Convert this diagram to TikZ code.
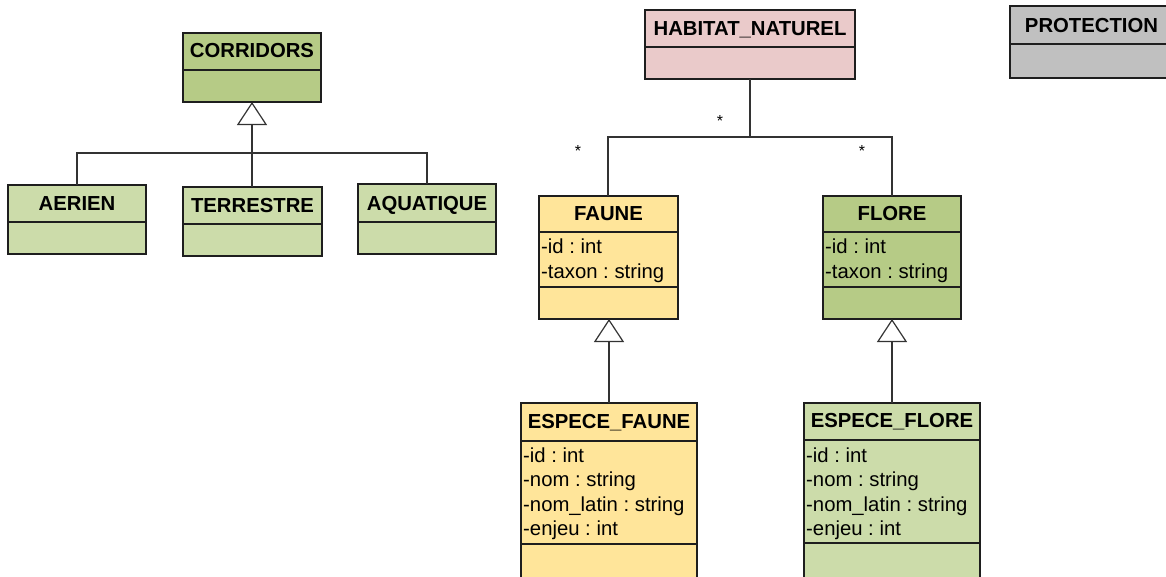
\documentclass[tikz,border=0pt]{standalone}
\usepackage{fontspec}
\setmainfont{Liberation Sans}
\frenchspacing
\usetikzlibrary{arrows.meta}
\definecolor{gDark}{HTML}{B6CB86}
\definecolor{gLight}{HTML}{CCDCAA}
\definecolor{pinkc}{HTML}{EACACA}
\definecolor{yellc}{HTML}{FFE59A}
\definecolor{grayc}{HTML}{C0C0C0}
\definecolor{edgec}{HTML}{1E1E1E}
\definecolor{linec}{HTML}{333333}
\tikzset{
  cls/.style={draw=edgec, line width=1.6pt, inner sep=0pt, outer sep=0pt, anchor=north west},
  divl/.style={draw=edgec, line width=1.6pt},
  ttl/.style={inner sep=0pt, anchor=base, font=\bfseries\fontsize{20.3}{24}\selectfont},
  attr/.style={inner sep=0pt, anchor=base west, font=\frenchspacing\fontsize{20.3}{24}\selectfont},
  conn/.style={draw=linec, line width=1.2pt},
  gen/.style={conn, -{Triangle[open, fill=white, length=23pt, width=30pt, line width=1.2pt]}},
  mult/.style={inner sep=0pt, anchor=base, font=\fontsize{16}{18}\selectfont},
}
\begin{document}
\begin{tikzpicture}[x=1pt, y=-1pt]
\useasboundingbox (0,0) rectangle (1166,576);
\clip (0,0) rectangle (1166,576);
\fill[white] (0,0) rectangle (1166,576);

% CORRIDORS
\node[cls, fill=gDark, minimum width=138pt, minimum height=69pt] (corr) at (183,33) {};
\draw[divl] ([yshift=-37pt]corr.north west) -- ([yshift=-37pt]corr.north east);
\node[ttl] (corrT) at ([yshift=-24pt]corr.north) {CORRIDORS};

% AERIEN
\node[cls, fill=gLight, minimum width=138pt, minimum height=69pt] (aer) at (8,185) {};
\draw[divl] ([yshift=-37pt]aer.north west) -- ([yshift=-37pt]aer.north east);
\node[ttl] (aerT) at ([yshift=-25pt]aer.north) {AERIEN};

% TERRESTRE
\node[cls, fill=gLight, minimum width=139pt, minimum height=69pt] (ter) at (183,187) {};
\draw[divl] ([yshift=-37pt]ter.north west) -- ([yshift=-37pt]ter.north east);
\node[ttl] (terT) at ([yshift=-25pt]ter.north) {TERRESTRE};

% AQUATIQUE
\node[cls, fill=gLight, minimum width=138pt, minimum height=70pt] (aqu) at (358,184) {};
\draw[divl] ([yshift=-38pt]aqu.north west) -- ([yshift=-38pt]aqu.north east);
\node[ttl] (aquT) at ([yshift=-26pt]aqu.north) {AQUATIQUE};

% HABITAT_NATUREL
\node[cls, fill=pinkc, minimum width=210pt, minimum height=69pt] (hab) at (645,10) {};
\draw[divl] ([yshift=-37pt]hab.north west) -- ([yshift=-37pt]hab.north east);
\node[ttl] (habT) at ([yshift=-25pt]hab.north) {HABITAT\_NATUREL};

% PROTECTION
\node[cls, fill=grayc, minimum width=163pt, minimum height=72pt] (pro) at (1010,6) {};
\draw[divl] ([yshift=-38pt]pro.north west) -- ([yshift=-38pt]pro.north east);
\node[ttl] (proT) at ([yshift=-26pt]pro.north) {PROTECTION};

% FAUNE
\node[cls, fill=yellc, minimum width=139pt, minimum height=123pt] (fau) at (539,196) {};
\draw[divl] ([yshift=-36pt]fau.north west) -- ([yshift=-36pt]fau.north east);
\draw[divl] ([yshift=-91pt]fau.north west) -- ([yshift=-91pt]fau.north east);
\node[ttl] (fauT) at ([yshift=-24pt]fau.north) {FAUNE};
\node[attr] (fauA1) at ([xshift=2pt,yshift=-57pt]fau.north west) {-id : int};
\node[attr] (fauA2) at ([xshift=2pt,yshift=-82pt]fau.north west) {-taxon : string};

% FLORE
\node[cls, fill=gDark, minimum width=138pt, minimum height=123pt] (flo) at (823,196) {};
\draw[divl] ([yshift=-36pt]flo.north west) -- ([yshift=-36pt]flo.north east);
\draw[divl] ([yshift=-91pt]flo.north west) -- ([yshift=-91pt]flo.north east);
\node[ttl] (floT) at ([yshift=-24pt]flo.north) {FLORE};
\node[attr] (floA1) at ([xshift=2pt,yshift=-57pt]flo.north west) {-id : int};
\node[attr] (floA2) at ([xshift=2pt,yshift=-82pt]flo.north west) {-taxon : string};

% ESPECE_FAUNE
\node[cls, fill=yellc, minimum width=176pt, minimum height=176pt] (efa) at (521,403) {};
\draw[divl] ([yshift=-38pt]efa.north west) -- ([yshift=-38pt]efa.north east);
\draw[divl] ([yshift=-141pt]efa.north west) -- ([yshift=-141pt]efa.north east);
\node[ttl] (efaT) at ([yshift=-25pt]efa.north) {ESPECE\_FAUNE};
\node[attr] (efaA1) at ([xshift=2pt,yshift=-59pt]efa.north west) {-id : int};
\node[attr] (efaA2) at ([xshift=2pt,yshift=-83.5pt]efa.north west) {-nom : string};
\node[attr] (efaA3) at ([xshift=2pt,yshift=-108pt]efa.north west) {-nom\_latin : string};
\node[attr] (efaA4) at ([xshift=2pt,yshift=-132.5pt]efa.north west) {-enjeu : int};

% ESPECE_FLORE
\node[cls, fill=gLight, minimum width=176pt, minimum height=176pt] (efl) at (804,403) {};
\draw[divl] ([yshift=-37pt]efl.north west) -- ([yshift=-37pt]efl.north east);
\draw[divl] ([yshift=-140pt]efl.north west) -- ([yshift=-140pt]efl.north east);
\node[ttl] (eflT) at ([yshift=-24pt]efl.north) {ESPECE\_FLORE};
\node[attr] (eflA1) at ([xshift=2pt,yshift=-59pt]efl.north west) {-id : int};
\node[attr] (eflA2) at ([xshift=2pt,yshift=-83.5pt]efl.north west) {-nom : string};
\node[attr] (eflA3) at ([xshift=2pt,yshift=-108pt]efl.north west) {-nom\_latin : string};
\node[attr] (eflA4) at ([xshift=2pt,yshift=-132.5pt]efl.north west) {-enjeu : int};

% Generalisation: corridors
\draw[gen] (ter.north -| corr.south) -- (corr.south);
\draw[conn] (aer.north -| 77,0) -- (77,153) -- (427,153) -- (aqu.north -| 427,0);

% Generalisation: especes
\draw[gen] (efa.north -| 609,0) -- (fau.south -| 609,0);
\draw[gen] (efl.north -| 892,0) -- (flo.south -| 892,0);

% Associations habitat
\coordinate (hj) at (750,137);
\draw[conn] (hab.south -| hj) -- (hj);
\draw[conn] (hj) -- (608,137) -- (fau.north -| 608,0);
\draw[conn] (hj) -- (892,137) -- (flo.north -| 892,0);
\node[mult] (m1) at (720,126) {*};
\node[mult] (m2) at (578,156) {*};
\node[mult] (m3) at (862,156) {*};
\end{tikzpicture}
\end{document}
